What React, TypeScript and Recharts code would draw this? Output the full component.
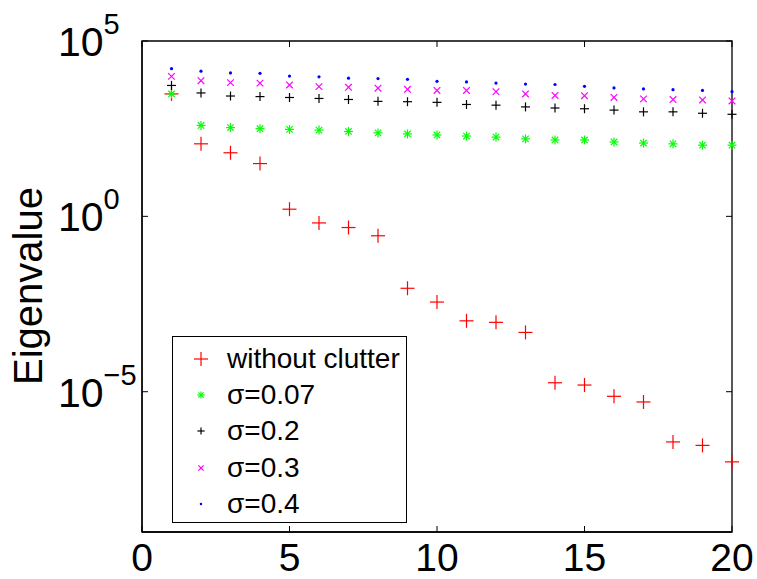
import React from 'react';
import { ScatterChart, Scatter, XAxis, YAxis, Legend, ReferenceArea } from 'recharts';

const FONT = '"Liberation Sans", Arial, Helvetica, sans-serif';

const indices = [1, 2, 3, 4, 5, 6, 7, 8, 9, 10, 11, 12, 13, 14, 15, 16, 17, 18, 19, 20];
const withoutClutter = [3.1e3, 117, 65, 32, 1.6, 0.65, 0.48, 0.28, 8.9e-3, 3.6e-3, 1.05e-3, 9.5e-4, 4.9e-4, 1.8e-5, 1.55e-5, 7.4e-6, 5.1e-6, 3.7e-7, 2.95e-7, 1.0e-7];
const sigma007 = [3.1e3, 390, 340, 316, 302, 288, 263, 240, 224, 209, 195, 182, 162, 151, 151, 132, 123, 117, 107, 107];
const sigma02 = [5.4e3, 3.3e3, 2.7e3, 2.6e3, 2.45e3, 2.3e3, 2.15e3, 1.9e3, 1.86e3, 1.78e3, 1.55e3, 1.48e3, 1.32e3, 1.23e3, 1.17e3, 1.07e3, 955, 955, 870, 813];
const sigma03 = [9.8e3, 7.4e3, 6.5e3, 6.3e3, 5.6e3, 5.0e3, 4.8e3, 4.5e3, 4.2e3, 3.9e3, 3.9e3, 3.6e3, 3.1e3, 2.8e3, 2.75e3, 2.45e3, 2.24e3, 2.14e3, 2.09e3, 1.95e3];
const sigma04 = [1.62e4, 1.38e4, 1.23e4, 1.2e4, 1.0e4, 9.5e3, 8.7e3, 8.5e3, 8.1e3, 7.1e3, 6.8e3, 6.3e3, 5.9e3, 5.75e3, 5.1e3, 4.6e3, 4.3e3, 4.1e3, 3.9e3, 3.6e3];

const seriesNames = ['without clutter', 'σ=0.07', 'σ=0.2', 'σ=0.3', 'σ=0.4'];
const xTicks = [0, 5, 10, 15, 20];
const yTicks = [1e-5, 1, 1e5];
const yTickExponents = ['−5', '0', '5'];
const xDomain = [0, 20];
const yDomain = [1e-9, 1e5];

// layout constants (plot frame)
const W = 757;
const H = 579;
const M_TOP = 41;
const M_RIGHT = 25;
const Y_AXIS_W = 142;
const X_AXIS_H = 47;
const PLOT_LEFT = Y_AXIS_W;
const PLOT_RIGHT = W - M_RIGHT;
const PLOT_TOP = M_TOP;
const PLOT_BOTTOM = H - X_AXIS_H;
const TICK = 6;

const toPoints = (vals: number[]) => indices.map((x, i) => ({ x, y: vals[i] }));

type MarkerKind = 'bigplus' | 'star' | 'plus' | 'cross' | 'dot';

const drawMarker = (kind: MarkerKind, cx: number, cy: number, color: string, scale = 1) => {
  const sw = 1.2;
  if (kind === 'bigplus' || kind === 'plus') {
    const h = (kind === 'bigplus' ? 7 : 4.5) * scale;
    return (
      <g>
        <line x1={cx - h} x2={cx + h} y1={cy} y2={cy} stroke={color} strokeWidth={sw} />
        <line x1={cx} x2={cx} y1={cy - h} y2={cy + h} stroke={color} strokeWidth={sw} />
      </g>
    );
  }
  if (kind === 'star') {
    const h = 4.5 * scale;
    const d = 3.2 * scale;
    return (
      <g>
        <line x1={cx - h} x2={cx + h} y1={cy} y2={cy} stroke={color} strokeWidth={sw} />
        <line x1={cx} x2={cx} y1={cy - h} y2={cy + h} stroke={color} strokeWidth={sw} />
        <line x1={cx - d} x2={cx + d} y1={cy - d} y2={cy + d} stroke={color} strokeWidth={sw} />
        <line x1={cx - d} x2={cx + d} y1={cy + d} y2={cy - d} stroke={color} strokeWidth={sw} />
      </g>
    );
  }
  if (kind === 'cross') {
    const d = 3.3 * scale;
    return (
      <g>
        <line x1={cx - d} x2={cx + d} y1={cy - d} y2={cy + d} stroke={color} strokeWidth={sw} />
        <line x1={cx - d} x2={cx + d} y1={cy + d} y2={cy - d} stroke={color} strokeWidth={sw} />
      </g>
    );
  }
  return <circle cx={cx} cy={cy} r={1.6 * scale} fill={color} />;
};

const series = [
  { name: seriesNames[0], data: toPoints(withoutClutter), color: '#ff0000', kind: 'bigplus' as MarkerKind },
  { name: seriesNames[1], data: toPoints(sigma007), color: '#00ff00', kind: 'star' as MarkerKind },
  { name: seriesNames[2], data: toPoints(sigma02), color: '#000000', kind: 'plus' as MarkerKind },
  { name: seriesNames[3], data: toPoints(sigma03), color: '#ff00ff', kind: 'cross' as MarkerKind },
  { name: seriesNames[4], data: toPoints(sigma04), color: '#0000ff', kind: 'dot' as MarkerKind },
];

const XTick = (props: any) => {
  const { x, payload } = props;
  return (
    <g>
      <line x1={x} x2={x} y1={PLOT_BOTTOM} y2={PLOT_BOTTOM - TICK} stroke="#000" strokeWidth={1} />
      <line x1={x} x2={x} y1={PLOT_TOP} y2={PLOT_TOP + TICK} stroke="#000" strokeWidth={1} />
      <text x={x} y={571} textAnchor="middle" fontSize={39} fontFamily={FONT} fill="#000">
        {payload.value}
      </text>
    </g>
  );
};

const YTick = (props: any) => {
  const { y, payload, index } = props;
  const idx = yTicks.indexOf(payload.value);
  const exp = yTickExponents[idx >= 0 ? idx : index];
  return (
    <g>
      <line x1={PLOT_LEFT} x2={PLOT_LEFT + TICK} y1={y} y2={y} stroke="#000" strokeWidth={1} />
      <line x1={PLOT_RIGHT} x2={PLOT_RIGHT - TICK} y1={y} y2={y} stroke="#000" strokeWidth={1} />
      <text x={58} y={y + 15} fontSize={41} fontFamily={FONT} fill="#000">
        <tspan>10</tspan>
        <tspan dy={-22} fontSize={29}>{exp}</tspan>
      </text>
    </g>
  );
};

const AxisTitle = () => (
  <text
    x={42}
    y={286}
    transform="rotate(-90, 42, 286)"
    textAnchor="middle"
    fontSize={40}
    fontFamily={FONT}
    fill="#000"
  >
    Eigenvalue
  </text>
);

const LegendBox = () => (
  <div
    style={{
      width: 235,
      height: 187,
      boxSizing: 'border-box',
      border: '1.3px solid #000',
      background: '#fff',
      position: 'relative',
      fontFamily: FONT,
      fontSize: 28,
      color: '#000',
    }}
  >
    {series.map((s, i) => (
      <div
        key={s.name}
        style={{
          position: 'absolute',
          left: 0,
          top: 3.5 + i * 36.4,
          height: 36,
          display: 'flex',
          alignItems: 'center',
          whiteSpace: 'nowrap',
        }}
      >
        <svg width={54} height={36} style={{ display: 'block' }}>
          {drawMarker(s.kind, 28, 18, s.color, s.kind === 'bigplus' ? 1 : 0.8)}
        </svg>
        <span style={{ lineHeight: '36px' }}>{s.name}</span>
      </div>
    ))}
  </div>
);

export default function App() {
  return (
    <div style={{ position: 'absolute', left: 0, top: 0, background: '#fff' }}>
      <ScatterChart width={W} height={H} margin={{ top: M_TOP, right: M_RIGHT, bottom: 0, left: 0 }}>
        <XAxis
          dataKey="x"
          type="number"
          domain={xDomain}
          ticks={xTicks}
          interval={0}
          height={X_AXIS_H}
          tickLine={false}
          tick={<XTick />}
          axisLine={{ stroke: '#000', strokeWidth: 1.3 }}
        />
        <YAxis
          dataKey="y"
          type="number"
          scale="log"
          domain={yDomain}
          ticks={yTicks}
          interval={0}
          width={Y_AXIS_W}
          tickLine={false}
          tick={<YTick />}
          axisLine={{ stroke: '#000', strokeWidth: 1.3 }}
          label={<AxisTitle />}
        />
        <ReferenceArea
          x1={xDomain[0]}
          x2={xDomain[1]}
          y1={yDomain[0]}
          y2={yDomain[1]}
          fill="none"
          fillOpacity={0}
          stroke="#000"
          strokeWidth={1.3}
          ifOverflow="visible"
        />
        {series.map((s) => (
          <Scatter
            key={s.name}
            name={s.name}
            data={s.data}
            fill={s.color}
            isAnimationActive={false}
            shape={(p: any) => drawMarker(s.kind, p.cx, p.cy, s.color)}
          />
        ))}
        <Legend
          layout="vertical"
          align="center"
          verticalAlign="middle"
          wrapperStyle={{ left: 172, top: 336, width: 235, height: 187 }}
          content={<LegendBox />}
        />
      </ScatterChart>
    </div>
  );
}
